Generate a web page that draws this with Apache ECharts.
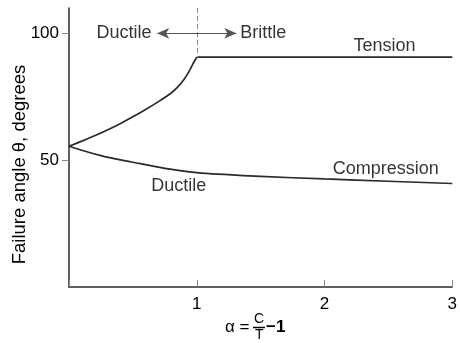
<!DOCTYPE html>
<html>
<head>
<meta charset="utf-8">
<script src="https://cdn.jsdelivr.net/npm/echarts@6/dist/echarts.min.js"></script>
<style>
  html, body { margin: 0; padding: 0; background: #fff; }
  #chart { width: 460px; height: 343px; }
</style>
</head>
<body>
<div id="chart"></div>
<script>
// tension branch (ductile part, up to alpha = 1), then flat brittle part
const tensionX = [0, 0.1, 0.2, 0.3, 0.4, 0.5, 0.6, 0.7, 0.8, 0.85, 0.9, 0.94, 0.97, 1]
const tensionY = [55.5, 57.5, 59.6, 61.9, 64.4, 67.1, 70, 73.1, 76.5, 78.8, 81.8, 85, 88, 90.6]
const brittleX = [1, 3]
const brittleY = [90.6, 90.6]

// compression branch
const compX = [0, 0.25, 0.5, 0.75, 1, 1.25, 1.5, 2, 2.5, 3]
const compY = [55.5, 51.8, 49.2, 46.8, 45.1, 44.3, 43.6, 42.6, 41.7, 40.8]

// text notes placed in data coordinates
const noteText = ['Ductile', 'Brittle', 'Tension', 'Compression', 'Ductile']
const noteX = [0.43, 1.52, 2.47, 2.48, 0.86]
const noteY = [100, 100, 95, 46.5, 39.8]

const yTicks = [50, 100]

const font = 'Liberation Sans, Arial, sans-serif'
const ink = '#000'
const lineColor = '#2a2a2a'

const chart = echarts.init(document.getElementById('chart'))

const pairs = (xs, ys) => xs.map((x, i) => [x, ys[i]])

const option = {
  animation: false,
  grid: { left: 69, right: 6, top: 8, bottom: 56 },
  xAxis: {
    type: 'value',
    min: 0,
    max: 3,
    interval: 1,
    splitLine: { show: false },
    axisLine: { lineStyle: { color: lineColor, width: 1.5 } },
    axisTick: { inside: true, length: 7, lineStyle: { color: '#888' } },
    axisLabel: {
      fontSize: 17,
      fontFamily: font,
      color: ink,
      margin: 9,
      formatter: v => (v === 0 ? '' : String(v))
    }
  },
  yAxis: {
    type: 'value',
    min: 0,
    max: 110,
    interval: 50,
    name: 'Failure angle θ, degrees',
    nameLocation: 'middle',
    nameGap: 40,
    nameMoveOverlap: false,
    nameTextStyle: { fontSize: 18.5, fontFamily: font, color: ink, padding: [0, 34, 0, 0] },
    splitLine: { show: false },
    axisLine: { lineStyle: { color: lineColor, width: 1.5 } },
    axisTick: { length: 7, customValues: yTicks, lineStyle: { color: '#888' } },
    axisLabel: {
      fontSize: 17,
      fontFamily: font,
      color: ink,
      margin: 10,
      customValues: yTicks
    }
  },
  series: [
    {
      type: 'line',
      data: pairs(tensionX, tensionY),
      smooth: 0.2,
      symbol: 'none',
      lineStyle: { color: lineColor, width: 1.7 }
    },
    {
      type: 'line',
      data: pairs(brittleX, brittleY),
      symbol: 'none',
      lineStyle: { color: lineColor, width: 1.7 },
      markLine: {
        silent: true,
        label: { show: false },
        data: [
          [
            { coord: [1, 110], symbol: 'none' },
            { coord: [1, 90.6], symbol: 'none', lineStyle: { type: [5, 3], color: '#888', width: 1 } }
          ],
          [
            { coord: [0.69, 100], symbol: 'arrow' },
            { coord: [1.31, 100], symbol: 'arrow', lineStyle: { type: 'solid', color: '#555', width: 1.2 } }
          ]
        ],
        symbolSize: [8, 12]
      }
    },
    {
      type: 'line',
      data: pairs(compX, compY),
      smooth: 0.4,
      symbol: 'none',
      lineStyle: { color: lineColor, width: 1.7 }
    },
    {
      type: 'scatter',
      data: noteText.map((t, i) => ({ value: [noteX[i], noteY[i]], name: t })),
      symbolSize: 0,
      silent: true,
      label: {
        show: true,
        position: 'inside',
        formatter: p => p.name,
        fontSize: 18,
        fontFamily: font,
        color: ink
      }
    }
  ],
  graphic: [
    { type: 'text', left: 225, top: 319, style: { text: 'α =', fontSize: 17, fontFamily: font, fill: ink } },
    { type: 'text', left: 254, top: 312, style: { text: 'C', fontSize: 14, fontFamily: font, fill: ink } },
    { type: 'line', shape: { x1: 253, y1: 327.5, x2: 265, y2: 327.5 }, style: { stroke: ink, lineWidth: 1.5 } },
    { type: 'text', left: 255, top: 328, style: { text: 'T', fontSize: 14, fontFamily: font, fill: ink } },
    { type: 'text', left: 266, top: 319, style: { text: '−1', fontSize: 17, fontFamily: font, fill: ink, fontWeight: 'bold' } }
  ]
}

chart.setOption(option)
</script>
</body>
</html>
